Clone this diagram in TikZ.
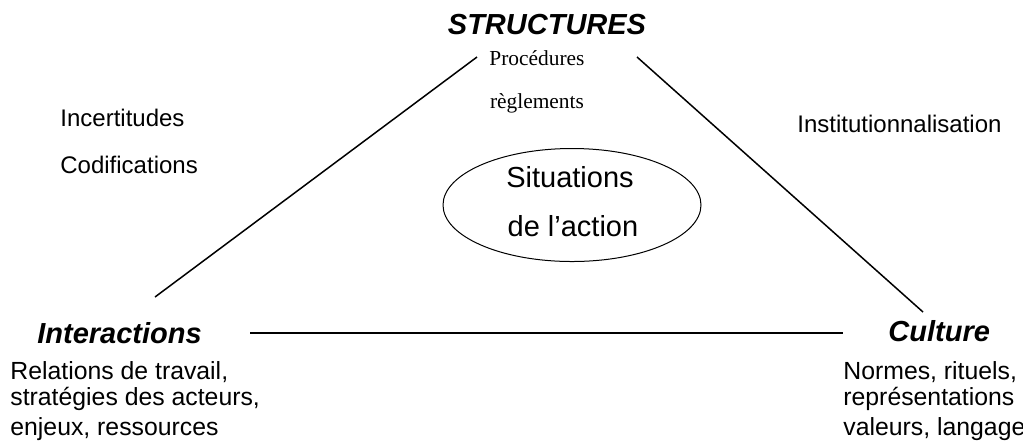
\documentclass[tikz,border=0pt]{standalone}
\usepackage{fontspec}
\setmainfont{Liberation Sans}
\newfontfamily\timesfont{Liberation Serif}
\usetikzlibrary{shapes.geometric}
\tikzset{
  pole/.style={font=\fontsize{14.5}{16}\selectfont\bfseries\itshape, inner sep=0pt},
  txt/.style={font=\fontsize{12}{13}\selectfont, inner sep=0pt, anchor=west},
  lst/.style={font=\fontsize{12.4}{13}\selectfont, inner sep=0pt, anchor=north west, align=left},
  rule/.style={line width=0.75pt}
}
\begin{document}
\begin{tikzpicture}[x=0.5pt,y=-0.5pt]
\useasboundingbox (0,0) rectangle (1023,447);
% the three poles
\node[pole] (struct) at (547,25) {STRUCTURES};
\node[pole,anchor=west] (inter) at (37,333) {Interactions};
\node[pole,anchor=west] (cult) at (888,331) {Culture};
\node[font=\timesfont\fontsize{10.7}{12}\selectfont, inner sep=0pt] (proc) at (537,58) {Procédures};
\node[font=\timesfont\fontsize{10.7}{12}\selectfont, inner sep=0pt] (regl) at (537,103) {règlements};
\node[txt] (incert) at (60,118) {Incertitudes};
\node[txt] (codif) at (60,165) {Codifications};
\node[txt] (instit) at (797,124) {Institutionnalisation};
\node[lst] (relat) at (10,361) {Relations de travail,\\stratégies des acteurs,\\[2pt]enjeux, ressources};
\node[lst] (norm) at (843,361) {Normes, rituels,\\représentations\\[2pt]valeurs, langage};
% centre
\node[draw, ellipse, line width=0.5pt, minimum width=129pt, minimum height=56.5pt, inner sep=0pt] (sit) at (572,205) {};
\node[font=\fontsize{14.5}{16}\selectfont, inner sep=0pt] (sit1) at (570,177) {Situations};
\node[font=\fontsize{14.5}{16}\selectfont, inner sep=0pt] (sit2) at (573,226) {de l'action};
% sides of the triangle
\coordinate (l1) at (155,297);
\coordinate (l2) at (477,57);
\coordinate (r1) at (637,57);
\coordinate (r2) at (923,312);
\coordinate (b1) at (250,333);
\coordinate (b2) at (843,333);
\draw[rule] (l1) -- (l2);
\draw[rule] (r1) -- (r2);
\draw[rule] (b1) -- (b2);
\end{tikzpicture}
\end{document}
